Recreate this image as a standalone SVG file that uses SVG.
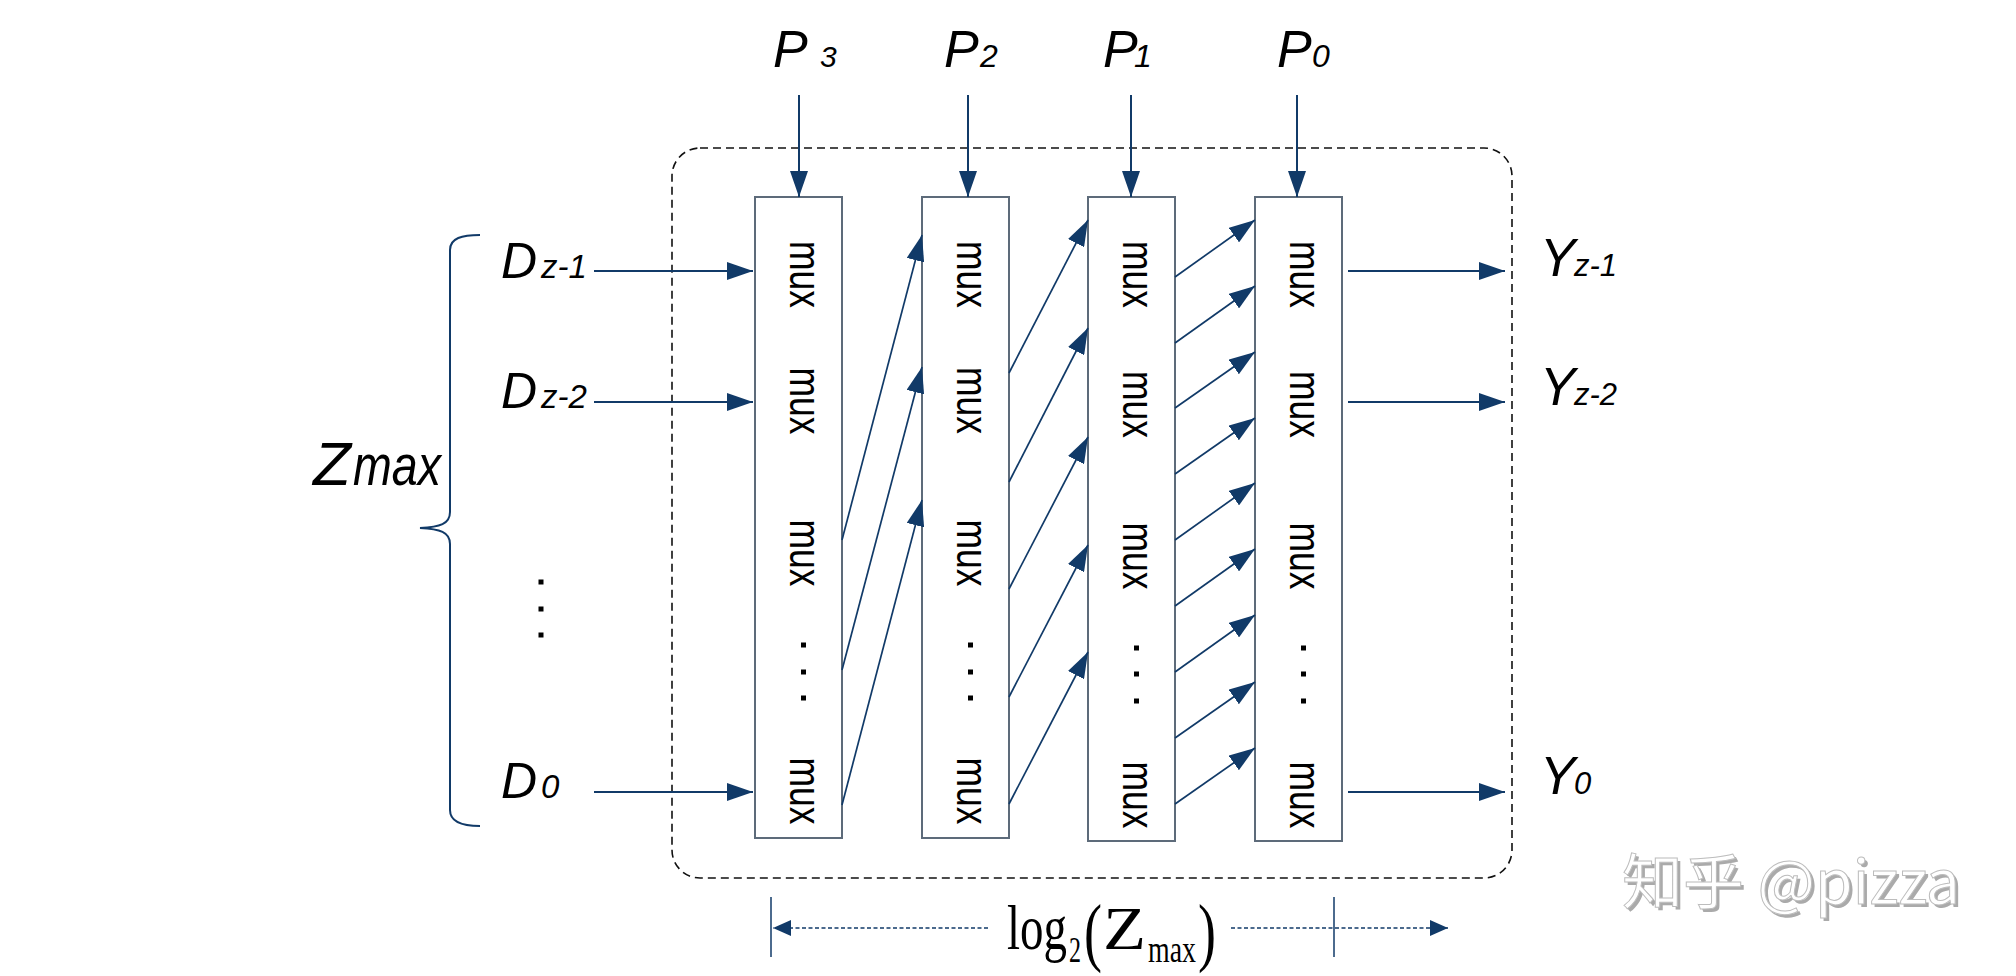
<svg xmlns="http://www.w3.org/2000/svg" width="2016" height="976" viewBox="0 0 2016 976">
<style>
.box{fill:#fff;stroke:#5d6b7a;stroke-width:2}
.mux{font-family:"Liberation Sans",Arial,sans-serif;font-size:44px;fill:#000}
.dot{fill:#000}
.it{font-family:"Liberation Sans",Arial,sans-serif;font-style:italic;fill:#000}
.tm{font-family:"Liberation Serif","Times New Roman",serif;fill:#000}
.arr{stroke:#113a68;stroke-width:2;fill:none;marker-end:url(#ah)}
.dg{stroke:#113a68;stroke-width:1.7;fill:none;marker-end:url(#ah)}
.dim{stroke:#113a68;stroke-width:1.5;fill:none;stroke-dasharray:4 2.5}
</style>
<defs>
<marker id="ah" markerUnits="userSpaceOnUse" markerWidth="26" markerHeight="18" refX="26" refY="9" orient="auto">
<path d="M0,0 L26,9 L0,18 z" fill="#113a68"/>
</marker>
<marker id="sh" markerUnits="userSpaceOnUse" markerWidth="18" markerHeight="16" refX="18" refY="8" orient="auto-start-reverse">
<path d="M0,0 L18,8 L0,16 z" fill="#113a68"/>
</marker>
</defs>
<rect width="2016" height="976" fill="#fff"/>

<g id="frame">
<rect x="672" y="148" width="840" height="730" rx="28" ry="28" fill="none" stroke="#111" stroke-width="1.6" stroke-dasharray="8 5"/>
</g>

<g id="col1">
<rect class="box" x="755" y="197" width="87" height="641"/>
<text class="mux" transform="translate(798.5,274.5) rotate(90)" x="-33.5" y="9" textLength="67" lengthAdjust="spacingAndGlyphs">mux</text>
<text class="mux" transform="translate(798.5,401) rotate(90)" x="-33.5" y="9" textLength="67" lengthAdjust="spacingAndGlyphs">mux</text>
<text class="mux" transform="translate(798.5,553) rotate(90)" x="-33.5" y="9" textLength="67" lengthAdjust="spacingAndGlyphs">mux</text>
<rect class="dot" x="801" y="642.5" width="5" height="5"/>
<rect class="dot" x="801" y="669.5" width="5" height="5"/>
<rect class="dot" x="801" y="695.5" width="5" height="5"/>
<text class="mux" transform="translate(798.5,791) rotate(90)" x="-33.5" y="9" textLength="67" lengthAdjust="spacingAndGlyphs">mux</text>
</g>

<g id="col2">
<rect class="box" x="922" y="197" width="87" height="641"/>
<text class="mux" transform="translate(965.5,274.5) rotate(90)" x="-33.5" y="9" textLength="67" lengthAdjust="spacingAndGlyphs">mux</text>
<text class="mux" transform="translate(965.5,400.5) rotate(90)" x="-33.5" y="9" textLength="67" lengthAdjust="spacingAndGlyphs">mux</text>
<text class="mux" transform="translate(965.5,553) rotate(90)" x="-33.5" y="9" textLength="67" lengthAdjust="spacingAndGlyphs">mux</text>
<rect class="dot" x="968" y="642.5" width="5" height="5"/>
<rect class="dot" x="968" y="669.5" width="5" height="5"/>
<rect class="dot" x="968" y="695.5" width="5" height="5"/>
<text class="mux" transform="translate(965.5,791) rotate(90)" x="-33.5" y="9" textLength="67" lengthAdjust="spacingAndGlyphs">mux</text>
</g>

<g id="col3">
<rect class="box" x="1088" y="197" width="87" height="644"/>
<text class="mux" transform="translate(1131.5,274.5) rotate(90)" x="-33.5" y="9" textLength="67" lengthAdjust="spacingAndGlyphs">mux</text>
<text class="mux" transform="translate(1131.5,404.5) rotate(90)" x="-33.5" y="9" textLength="67" lengthAdjust="spacingAndGlyphs">mux</text>
<text class="mux" transform="translate(1131.5,556) rotate(90)" x="-33.5" y="9" textLength="67" lengthAdjust="spacingAndGlyphs">mux</text>
<rect class="dot" x="1134" y="645.5" width="5" height="5"/>
<rect class="dot" x="1134" y="671.5" width="5" height="5"/>
<rect class="dot" x="1134" y="698.5" width="5" height="5"/>
<text class="mux" transform="translate(1131.5,795) rotate(90)" x="-33.5" y="9" textLength="67" lengthAdjust="spacingAndGlyphs">mux</text>
</g>

<g id="col4">
<rect class="box" x="1255" y="197" width="87" height="644"/>
<text class="mux" transform="translate(1298.5,274.5) rotate(90)" x="-33.5" y="9" textLength="67" lengthAdjust="spacingAndGlyphs">mux</text>
<text class="mux" transform="translate(1298.5,404.5) rotate(90)" x="-33.5" y="9" textLength="67" lengthAdjust="spacingAndGlyphs">mux</text>
<text class="mux" transform="translate(1298.5,556) rotate(90)" x="-33.5" y="9" textLength="67" lengthAdjust="spacingAndGlyphs">mux</text>
<rect class="dot" x="1301" y="645.5" width="5" height="5"/>
<rect class="dot" x="1301" y="671.5" width="5" height="5"/>
<rect class="dot" x="1301" y="698.5" width="5" height="5"/>
<text class="mux" transform="translate(1298.5,795) rotate(90)" x="-33.5" y="9" textLength="67" lengthAdjust="spacingAndGlyphs">mux</text>
</g>

<g id="p-labels">
<text class="it" x="773" y="67" font-size="52">P</text><text class="it" x="820" y="67" font-size="30">3</text>
<text class="it" x="944" y="67" font-size="52">P</text><text class="it" x="980" y="67" font-size="32">2</text>
<text class="it" x="1103" y="67" font-size="52">P</text><text class="it" x="1134" y="67" font-size="32">1</text>
<text class="it" x="1277" y="67" font-size="52">P</text><text class="it" x="1312" y="67" font-size="32">0</text>
</g>

<g id="d-labels">
<text class="it" x="501" y="278" font-size="50">D</text><text class="it" x="541" y="278" font-size="33">z-1</text>
<text class="it" x="501" y="408" font-size="50">D</text><text class="it" x="541" y="408" font-size="33">z-2</text>
<text class="it" x="501" y="798" font-size="50">D</text><text class="it" x="541" y="798" font-size="33">0</text>
<rect class="dot" x="538.5" y="579.5" width="5" height="5"/>
<rect class="dot" x="538.5" y="606.5" width="5" height="5"/>
<rect class="dot" x="538.5" y="632.5" width="5" height="5"/>
</g>

<g id="y-labels">
<text class="it" x="1540" y="276" font-size="53">Y</text><text class="it" x="1574" y="276" font-size="31">z-1</text>
<text class="it" x="1540" y="405" font-size="53">Y</text><text class="it" x="1574" y="405" font-size="31">z-2</text>
<text class="it" x="1540" y="794" font-size="53">Y</text><text class="it" x="1574" y="794" font-size="31">0</text>
</g>

<g id="zmax">
<path d="M480,235 C462,235 450,238 450,250 L450,512 C450,524 440,527 420,528 C440,529 450,532 450,544 L450,810 C450,822 462,826 480,826" fill="none" stroke="#113a68" stroke-width="2"/>
<text class="it" x="313" y="485" font-size="62">Z</text>
<text class="it" x="353" y="485" font-size="58" textLength="88" lengthAdjust="spacingAndGlyphs">max</text>
</g>

<g id="connectors">
<line class="arr" x1="799" y1="95" x2="799" y2="197"/>
<line class="arr" x1="968" y1="95" x2="968" y2="197"/>
<line class="arr" x1="1131" y1="95" x2="1131" y2="197"/>
<line class="arr" x1="1297" y1="95" x2="1297" y2="197"/>

<line class="arr" x1="594" y1="271" x2="753" y2="271"/>
<line class="arr" x1="594" y1="402" x2="753" y2="402"/>
<line class="arr" x1="594" y1="792" x2="753" y2="792"/>

<line class="arr" x1="1348" y1="271" x2="1505" y2="271"/>
<line class="arr" x1="1348" y1="402" x2="1505" y2="402"/>
<line class="arr" x1="1348" y1="792" x2="1505" y2="792"/>

<line class="dg" x1="842" y1="540" x2="922" y2="235"/>
<line class="dg" x1="842" y1="670" x2="922" y2="367"/>
<line class="dg" x1="842" y1="805" x2="922" y2="500"/>

<line class="dg" x1="1009" y1="373" x2="1088" y2="220"/>
<line class="dg" x1="1009" y1="482" x2="1088" y2="328"/>
<line class="dg" x1="1009" y1="589" x2="1088" y2="437"/>
<line class="dg" x1="1009" y1="697" x2="1088" y2="545"/>
<line class="dg" x1="1009" y1="804" x2="1088" y2="652"/>

<line class="dg" x1="1175" y1="277" x2="1255" y2="220"/>
<line class="dg" x1="1175" y1="343" x2="1255" y2="286"/>
<line class="dg" x1="1175" y1="408" x2="1255" y2="352"/>
<line class="dg" x1="1175" y1="474" x2="1255" y2="418"/>
<line class="dg" x1="1175" y1="540" x2="1255" y2="483"/>
<line class="dg" x1="1175" y1="606" x2="1255" y2="549"/>
<line class="dg" x1="1175" y1="672" x2="1255" y2="615"/>
<line class="dg" x1="1175" y1="738" x2="1255" y2="682"/>
<line class="dg" x1="1175" y1="804" x2="1255" y2="748"/>
</g>

<g id="dimension">
<line x1="771" y1="897" x2="771" y2="957" stroke="#113a68" stroke-width="1.5"/>
<line x1="1334" y1="897" x2="1334" y2="957" stroke="#113a68" stroke-width="1.5"/>
<line class="dim" x1="988" y1="928" x2="773" y2="928" marker-end="url(#sh)"/>
<line class="dim" x1="1231" y1="928" x2="1448" y2="928" marker-end="url(#sh)"/>
<text class="tm" x="1007" y="949" font-size="64" textLength="60" lengthAdjust="spacingAndGlyphs">log</text>
<text class="tm" x="1069" y="962" font-size="36" textLength="12" lengthAdjust="spacingAndGlyphs">2</text>
<text class="tm" x="1084" y="957" font-size="76" textLength="18" lengthAdjust="spacingAndGlyphs">(</text>
<text class="tm" x="1103" y="949" font-size="62" textLength="43" lengthAdjust="spacingAndGlyphs">Z</text>
<text class="tm" x="1148" y="962" font-size="38" textLength="48" lengthAdjust="spacingAndGlyphs">max</text>
<text class="tm" x="1198" y="957" font-size="76" textLength="18" lengthAdjust="spacingAndGlyphs">)</text>
</g>

<g id="watermark" font-family="'Noto Sans CJK SC','Noto Sans',sans-serif" font-size="60">
<text x="1625" y="907" fill="#aaaaaa" textLength="338" lengthAdjust="spacingAndGlyphs">知乎 @pizza</text>
<text x="1622" y="904" fill="#fff" stroke="#bdbdbd" stroke-width="1" textLength="338" lengthAdjust="spacingAndGlyphs">知乎 @pizza</text>
</g>
</svg>
